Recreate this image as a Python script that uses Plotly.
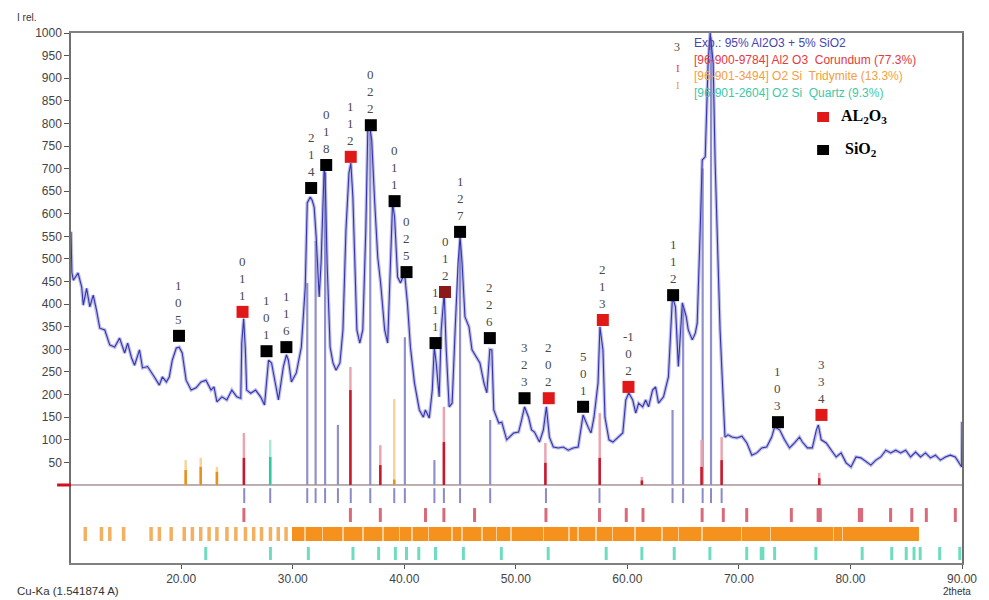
import plotly.graph_objects as go

# ---------------- data ----------------
two_theta = [10.12, 10.2, 10.33, 10.75, 11.08, 11.22, 11.52, 11.81, 12.11, 12.41, 12.70, 13.15, 13.59, 14.04, 14.48,
             14.93, 15.20, 15.55, 15.82, 16.26, 16.53, 16.98, 17.60, 18.04, 18.31, 18.67, 18.93, 19.20, 19.56, 19.82,
             20.09, 20.44, 20.89, 21.33, 21.78, 22.22, 22.67, 22.94, 23.20, 23.65, 24.09, 24.54, 24.98, 25.34, 25.43,
             25.60, 25.75, 25.87, 26.23, 26.67, 27.12, 27.47, 27.83, 28.10, 28.72, 29.16, 29.43, 29.61, 29.88, 30.32,
             30.77, 31.12, 31.30, 31.57, 31.74, 31.92, 32.10, 32.37, 32.54, 32.81, 32.90, 33.08, 33.35, 33.61, 33.88,
             34.23, 34.50, 34.77, 35.04, 35.21, 35.39, 35.57, 35.75, 36.01, 36.28, 36.55, 36.73, 36.90, 37.08, 37.35,
             37.62, 37.88, 38.24, 38.51, 38.77, 38.95, 39.13, 39.40, 39.66, 40.02, 40.28, 40.55, 40.91, 41.35, 41.71,
             41.89, 42.24, 42.51, 42.69, 42.86, 43.13, 43.31, 43.58, 43.75, 44.02, 44.29, 44.56, 44.82, 45.00, 45.18,
             45.44, 45.80, 46.07, 46.51, 46.78, 47.14, 47.40, 47.67, 47.85, 48.02, 48.47, 48.74, 49.18, 49.80, 50.25,
             50.52, 50.78, 51.14, 51.41, 51.67, 52.12, 52.47, 52.74, 53.01, 53.36, 53.81, 54.25, 54.70, 55.14, 55.59,
             55.85, 56.03, 56.48, 56.74, 57.01, 57.37, 57.54, 57.81, 57.99, 58.35, 58.70, 59.15, 59.59, 59.86, 60.12,
             60.48, 60.75, 61.01, 61.37, 61.64, 61.90, 62.26, 62.53, 62.79, 63.24, 63.68, 64.04, 64.31, 64.57, 64.93,
             65.28, 65.46, 65.82, 66.09, 66.26, 66.53, 66.71, 66.98, 67.24, 67.42, 67.69, 67.87, 68.13, 68.31, 68.58,
             68.75, 69.02, 69.38, 69.82, 70.27, 70.71, 71.16, 71.60, 72.05, 72.49, 72.94, 73.20, 73.65, 74.09, 74.54,
             74.98, 75.43, 75.69, 76.14, 76.58, 76.94, 77.12, 77.38, 77.83, 78.27, 78.72, 79.16, 79.61, 80.05, 80.50,
             80.94, 81.39, 81.83, 82.28, 82.72, 83.17, 83.61, 84.06, 84.50, 84.95, 85.39, 85.84, 86.28, 86.73, 87.17,
             87.62, 88.06, 88.51, 88.95, 89.40, 89.84, 89.97, 90.0]
intensity = [560, 470, 453, 469, 438, 398, 435, 394, 420, 387, 347, 343, 310, 305, 325,
             292, 314, 281, 265, 299, 259, 262, 239, 221, 239, 228, 239, 276, 303, 305,
             292, 232, 210, 215, 228, 232, 210, 217, 184, 195, 188, 210, 195, 192, 314,
             368, 300, 210, 203, 210, 195, 177, 276, 270, 188, 262, 288, 276, 228, 248,
             305, 438, 624, 637, 630, 615, 549, 416, 491, 697, 690, 491, 305, 270, 254,
             270, 343, 564, 690, 712, 637, 491, 343, 314, 343, 564, 785, 792, 763, 624,
             504, 447, 343, 314, 491, 624, 593, 460, 447, 469, 403, 305, 226, 166, 150,
             166, 148, 210, 305, 270, 195, 343, 425, 305, 173, 181, 343, 491, 549, 491,
             372, 350, 299, 281, 270, 226, 204, 300, 299, 166, 137, 139, 100, 115, 117,
             144, 173, 150, 122, 117, 95, 122, 173, 106, 84, 82, 84, 77, 82, 84,
             122, 155, 128, 115, 150, 226, 350, 299, 150, 100, 95, 106, 115, 188, 204,
             188, 159, 181, 173, 188, 173, 210, 217, 181, 195, 239, 416, 394, 262, 403,
             372, 343, 321, 336, 358, 564, 719, 726, 934, 1000, 934, 712, 491, 343, 195,
             106, 111, 106, 104, 108, 93, 66, 71, 82, 84, 106, 128, 122, 100, 82,
             93, 106, 95, 82, 82, 122, 133, 100, 93, 77, 62, 71, 49, 40, 62,
             60, 51, 44, 55, 62, 77, 71, 77, 71, 77, 62, 73, 62, 71, 60,
             66, 55, 62, 66, 62, 44, 40, 140]

# matched peak lines (lavender), above the zero line
peak_line_pos = [31.3, 32.05, 32.9, 34.05, 36.95, 40.05, 42.7, 45.0, 47.7, 64.05, 65.0, 66.75, 67.5]
peak_line_top = [447, 540, 690, 133, 780, 327, 55, 540, 144, 166, 390, 700, 990]
# short peak ticks just below the zero line
peak_tick_pos = [25.65, 27.98, 31.3, 32.05, 32.9, 34.05, 35.2, 36.95, 39.1, 40.05, 42.7, 43.55,
                 45.0, 47.7, 52.7, 57.5, 64.05, 65.0, 66.75, 67.5, 68.45]

# reference sticks drawn above the zero line
corundum_pos = [25.62, 35.17, 37.85, 43.55, 52.65, 57.52, 61.3, 66.65, 68.45, 77.2]
corundum_light = [115, 261, 88, 173, 93, 159, 18, 100, 106, 27]
corundum_dark = [60, 210, 44, 95, 49, 60, 10, 40, 55, 15]
tridymite_pos = [20.4, 21.75, 23.2, 39.1]
tridymite_light = [55, 60, 40, 190]
tridymite_dark = [33, 40, 29, 12]
quartz_pos = [27.98]
quartz_light = [100]
quartz_dark = [62]

# reference pattern rows below the zero line
corundum_row = [25.62, 35.17, 37.85, 41.9, 43.55, 46.3, 52.7, 57.5, 59.9, 61.4, 66.7, 68.6, 70.7, 74.7,
                77.1, 77.3, 80.8, 81.0, 83.6, 85.5, 86.8, 89.4]
tridymite_row = [11.4, 12.85, 13.6, 14.84, 17.3, 18.04, 19.1, 20.27, 21.0, 21.75, 22.5, 23.2, 24.1, 24.9,
                 25.76, 26.5, 27.2, 28.0, 28.7, 29.4]
tridymite_blocks = [[29.9, 31.0], [31.15, 32.6], [32.75, 34.4], [34.55, 36.2], [36.35, 38.0], [38.15, 39.5],
                    [39.65, 40.6], [40.75, 42.1], [42.25, 44.2], [44.35, 45.1], [45.25, 46.9], [47.05, 48.2],
                    [48.35, 49.5], [49.65, 52.4], [52.55, 54.7], [54.85, 55.5], [55.65, 57.1], [57.25, 58.6],
                    [58.75, 60.6], [60.75, 63.0], [63.15, 64.5], [64.65, 66.6], [66.75, 70.15], [70.3, 72.75],
                    [72.9, 78.4], [78.55, 79.2], [79.35, 86.1]]
quartz_row = [22.2, 28.0, 31.4, 35.4, 37.7, 39.2, 40.2, 41.3, 42.8, 45.3, 48.7, 52.9, 58.1, 61.3, 64.2,
              67.4, 70.7, 72.0, 72.15, 73.2, 76.9, 81.05, 83.7, 85.0, 85.7, 86.25, 88.0, 89.8]

# identified peaks
marker_pos = [19.8, 25.5, 27.65, 29.43, 31.65, 33.0, 35.2, 37.0, 39.13, 40.2, 42.8, 43.65, 45.0, 47.67,
              50.78, 52.95, 56.03, 57.8, 60.1, 64.1, 67.5, 73.5, 77.4]
marker_val = [330, 383, 296, 305, 657, 708, 726, 796, 628, 471, 314, 427, 560, 325,
              192, 192, 173, 365, 217, 420, 1005, 139, 155]
marker_phase = ["SiO2", "Al2O3", "SiO2", "SiO2", "SiO2", "SiO2", "Al2O3", "SiO2", "SiO2", "SiO2", "SiO2",
                "Al2O3b", "SiO2", "SiO2", "SiO2", "Al2O3", "SiO2", "Al2O3", "Al2O3", "SiO2", "SiO2",
                "SiO2", "Al2O3"]
hkl = ["105", "011", "101", "116", "214", "018", "112", "022", "011", "025", "111", "012", "127", "226",
       "323", "202", "501", "213", "-102", "112", "", "103", "334"]

y_ticks = [50, 100, 150, 200, 250, 300, 350, 400, 450, 500, 550, 600, 650, 700, 750, 800, 850, 900, 950, 1000]
x_ticks = [20, 30, 40, 50, 60, 70, 80, 90]
x_tick_labels = ["20.00", "30.00", "40.00", "50.00", "60.00", "70.00", "80.00", "90.00"]

legend_lines = ["Exp.: 95% Al2O3 + 5% SiO2",
                "[96-900-9784] Al2 O3  Corundum (77.3%)",
                "[96-901-3494] O2 Si  Tridymite (13.3%)",
                "[96-901-2604] O2 Si  Quartz (9.3%)"]

# ---------------- styles ----------------
ROW_PEAK = (-7, -40)
ROW_COR = (-51, -82)
ROW_TRI = (-93, -124)
ROW_QTZ = (-137, -166)
phase_color = {"SiO2": "#000000", "Al2O3": "#e01818", "Al2O3b": "#8b1a1a"}
legend_colors = ["#4646b4", "#e8383d", "#f2a040", "#3cc8a8"]


def sticks(xs, y0, y1):
    xx, yy = [], []
    for i, x in enumerate(xs):
        a = y0[i] if isinstance(y0, list) else y0
        b = y1[i] if isinstance(y1, list) else y1
        xx += [x, x, None]
        yy += [a, b, None]
    return xx, yy


def stick_trace(xs, y0, y1, color, width):
    xx, yy = sticks(xs, y0, y1)
    return go.Scatter(x=xx, y=yy, mode="lines", line=dict(color=color, width=width),
                      hoverinfo="skip", showlegend=False)


fig = go.Figure()

# tridymite band
fig.add_trace(go.Bar(x=[(29.9 + 86.1) / 2], y=[ROW_TRI[0] - ROW_TRI[1]], base=ROW_TRI[1],
                     width=[86.1 - 29.9], marker=dict(color="#f9d09a", line=dict(width=0)),
                     showlegend=False, hoverinfo="skip"))
fig.add_trace(go.Bar(x=[(a + b) / 2 for a, b in tridymite_blocks],
                     y=[ROW_TRI[0] - ROW_TRI[1]] * len(tridymite_blocks), base=ROW_TRI[1],
                     width=[b - a for a, b in tridymite_blocks],
                     marker=dict(color="#f5921e", line=dict(width=0)), showlegend=False, hoverinfo="skip"))
fig.add_trace(stick_trace(tridymite_row, ROW_TRI[0], ROW_TRI[1], "#f2b060", 3.5))
fig.add_trace(stick_trace(corundum_row, ROW_COR[0], ROW_COR[1], "#d86a7a", 3))
fig.add_trace(stick_trace(quartz_row, ROW_QTZ[0], ROW_QTZ[1], "#6fdcc0", 3))
fig.add_trace(stick_trace(peak_tick_pos, ROW_PEAK[0], ROW_PEAK[1], "#8a8ac8", 2))

# zero line
fig.add_trace(go.Scatter(x=[10.12, 90], y=[0, 0], mode="lines", line=dict(color="#7a6060", width=1),
                         hoverinfo="skip", showlegend=False))

# reference sticks above zero
fig.add_trace(stick_trace(peak_line_pos, 0, peak_line_top, "#9090cc", 2.2))
fig.add_trace(stick_trace(corundum_pos, 0, corundum_light, "#eaa6b0", 2.5))
fig.add_trace(stick_trace(corundum_pos, 0, corundum_dark, "#c8182c", 2.5))
fig.add_trace(stick_trace(tridymite_pos, 0, tridymite_light, "#f6d49a", 2.5))
fig.add_trace(stick_trace(tridymite_pos, 0, tridymite_dark, "#e8901c", 2.5))
fig.add_trace(stick_trace(quartz_pos, 0, quartz_light, "#a8e8d8", 2.5))
fig.add_trace(stick_trace(quartz_pos, 0, quartz_dark, "#30c8a0", 2.5))

# experimental curve
fig.add_trace(go.Scatter(x=two_theta, y=intensity, mode="lines",
                         line=dict(color="rgba(140,140,210,0.55)", width=3.5),
                         hoverinfo="skip", showlegend=False))
fig.add_trace(go.Scatter(x=two_theta, y=intensity, mode="lines",
                         line=dict(color="#3434b0", width=1.1), showlegend=False))

# peak markers
fig.add_trace(go.Scatter(x=marker_pos, y=marker_val, mode="markers",
                         marker=dict(symbol="square", size=12,
                                     color=[phase_color[p] for p in marker_phase], line=dict(width=0)),
                         cliponaxis=False, showlegend=False))


def hkl_chars(s):
    out, i = [], 0
    while i < len(s):
        if s[i] == "-":
            out.append(s[i:i + 2])
            i += 2
        else:
            out.append(s[i])
            i += 1
    return out


annotations = []
for x, v, h in zip(marker_pos, marker_val, hkl):
    if not h:
        continue
    annotations.append(dict(x=x, y=v, xref="x", yref="y", text="<br>".join(hkl_chars(h)),
                            showarrow=False, yanchor="bottom", xanchor="center", yshift=7,
                            font=dict(family="Liberation Serif", size=13, color="#4a4a4a")))

# page body has an 8px margin: the plot area spans window pixels x 71..969, y 33..563
def px2paper(px, py):
    return (px - 71) / 898, (563 - py) / 530


# legend texts
for i, (txt, col) in enumerate(zip(legend_lines, legend_colors)):
    xp, yp = px2paper(697, 43 + i * 16.7)
    annotations.append(dict(x=xp, y=yp, xref="paper", yref="paper", text=txt, showarrow=False,
                            xanchor="left", yanchor="middle",
                            font=dict(family="Liberation Sans", size=12, color=col)))
xp, yp = px2paper(687, 38)
annotations.append(dict(x=xp, y=yp, xref="paper", yref="paper", text="3", showarrow=False,
                        font=dict(family="Liberation Serif", size=12, color="#505050")))
for py, col in [(60, "#e8383d"), (77, "#f2a040")]:
    xp, yp = px2paper(687, py)
    annotations.append(dict(x=xp, y=yp, xref="paper", yref="paper", text="I", showarrow=False,
                            font=dict(family="Liberation Serif", size=11, color=col)))

xp, yp = px2paper(845, 117)
annotations.append(dict(x=xp, y=yp, xref="paper", yref="paper", text="<b>AL<sub>2</sub>O<sub>3</sub></b>",
                        showarrow=False, xanchor="left", yanchor="middle",
                        font=dict(family="Liberation Serif", size=16, color="#000")))
xp, yp = px2paper(849, 150)
annotations.append(dict(x=xp, y=yp, xref="paper", yref="paper", text="<b>SiO<sub>2</sub></b>",
                        showarrow=False, xanchor="left", yanchor="middle",
                        font=dict(family="Liberation Serif", size=16, color="#000")))

# axis captions
xp, yp = px2paper(15, 17)
annotations.append(dict(x=xp, y=yp, xref="paper", yref="paper", text="I rel.", showarrow=False,
                        xanchor="left", yanchor="middle",
                        font=dict(family="Liberation Sans", size=10, color="#333")))
xp, yp = px2paper(15, 591)
annotations.append(dict(x=xp, y=yp, xref="paper", yref="paper", text="Cu-Ka (1.541874 A)", showarrow=False,
                        xanchor="left", yanchor="middle",
                        font=dict(family="Liberation Sans", size=11.5, color="#333")))
xp, yp = px2paper(964, 591)
annotations.append(dict(x=xp, y=yp, xref="paper", yref="paper", text="2theta", showarrow=False,
                        xanchor="center", yanchor="middle",
                        font=dict(family="Liberation Sans", size=10, color="#333")))

shapes = []
for py, col in [(117, "#e01818"), (150, "#000000")]:
    x0, y0 = px2paper(823, py - 5)
    x1, y1 = px2paper(835, py + 5)
    shapes.append(dict(type="rect", xref="paper", yref="paper", x0=x0, x1=x1, y0=y1, y1=y0,
                       fillcolor=col, line=dict(width=0)))
shapes.append(dict(type="line", xref="paper", yref="y", x0=(57 - 71) / 898, x1=0, y0=0, y1=0,
                   line=dict(color="#d01020", width=3)))

fig.update_layout(
    width=981, height=592,
    margin=dict(l=63, r=20, t=25, b=37),
    paper_bgcolor="white", plot_bgcolor="white",
    barmode="overlay", bargap=0,
    showlegend=False,
    annotations=annotations,
    shapes=shapes,
    xaxis=dict(range=[10.12, 90], tickvals=x_ticks, ticktext=x_tick_labels, showgrid=False,
               zeroline=False, showline=True, linecolor="#808080", linewidth=1.5, mirror=True,
               ticks="outside", ticklen=4, tickcolor="#555",
               tickfont=dict(family="Liberation Sans", size=12, color="#444")),
    yaxis=dict(range=[-172.6, 1000], tickvals=y_ticks, showgrid=False, zeroline=False,
               showline=True, linecolor="#707070", linewidth=1.5, mirror=True,
               ticks="outside", ticklen=5, tickcolor="#555",
               tickfont=dict(family="Liberation Sans", size=12, color="#444")),
)

fig.write_html("out.html")
